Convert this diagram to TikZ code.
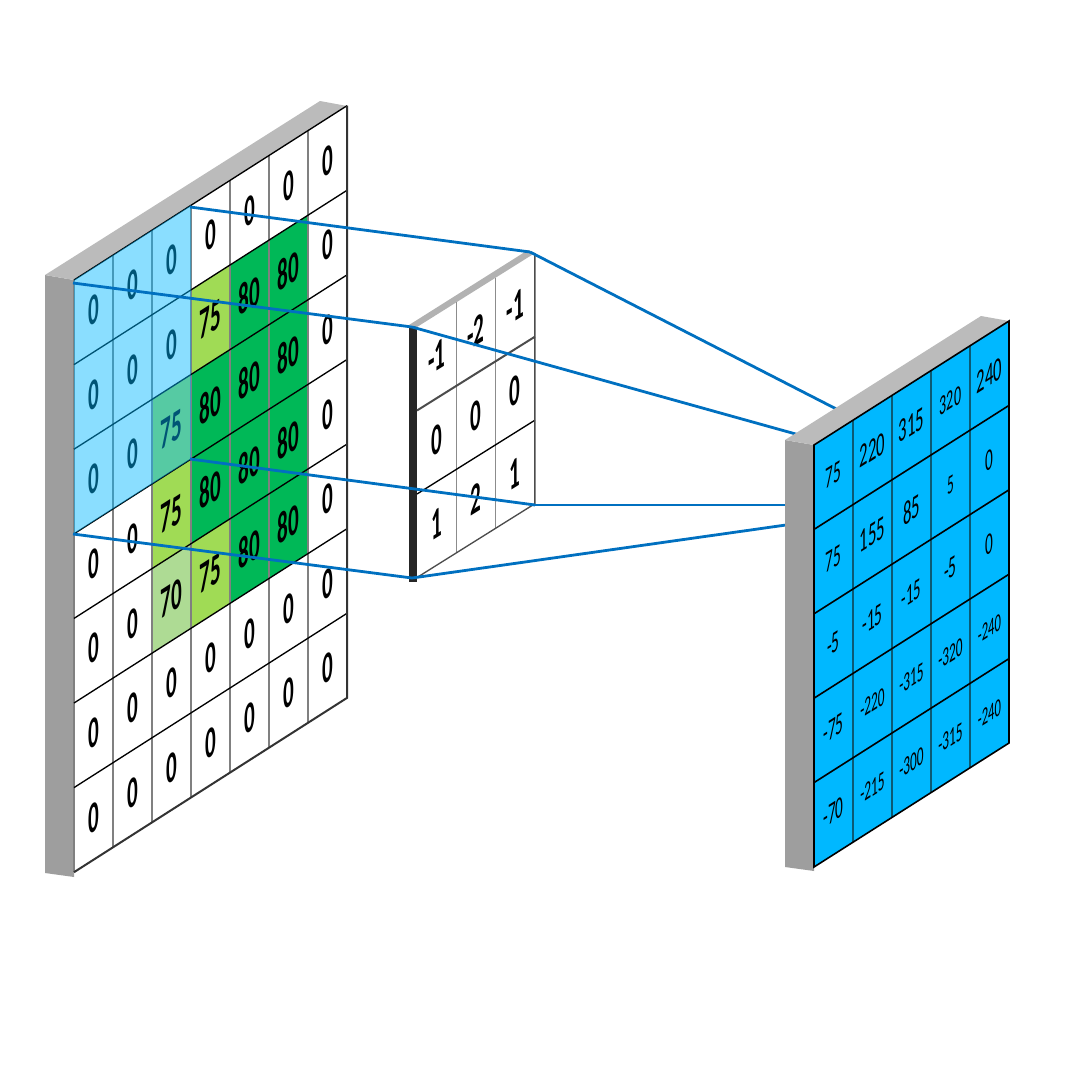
\documentclass[tikz,border=0pt]{standalone}
\usepackage{fontspec}
\setmainfont{Carlito}
\definecolor{wallside}{HTML}{9E9E9E}
\definecolor{walltop}{HTML}{BBBBBB}
\definecolor{cellsoft}{HTML}{AEDB94}
\definecolor{celllight}{HTML}{A0DB55}
\definecolor{celldark}{HTML}{00B857}
\definecolor{cellblue}{HTML}{00B8FF}
\definecolor{linkblue}{HTML}{0070C0}
\definecolor{outerline}{HTML}{0B5A75}
\tikzset{
  ingrid/.style={shift={(74,280)},x={(39,-24.9)},y={(0,84.6)}},
  kergrid/.style={shift={(417,327)},x={(39.3,-24.6)},y={(0,83.5)}},
  outgrid/.style={shift={(814,445)},x={(39,-24.8)},y={(0,84.4)}},
  innum/.style={transform shape,inner sep=0pt,font=\fontsize{33}{33}\selectfont\bfseries},
  link/.style={linkblue,line width=2.1pt},
}
\begin{document}
\begin{tikzpicture}[x=0.75pt,y=-0.75pt]
  \useasboundingbox (0,0) rectangle (1087,1088);
  % Ends of the links
  \coordinate (winA) at (190,207);
  \coordinate (winB) at (73,283);
  \coordinate (winC) at (190,459);
  \coordinate (winD) at (73,534);
  \coordinate (kerA) at (530,252);
  \coordinate (kerB) at (412,327);
  \coordinate (kerC) at (535,505);
  \coordinate (kerD) at (412,578);
  \coordinate (outA) at (850,416);
  \coordinate (outB) at (810,438);
  \coordinate (outC) at (800,505);
  \coordinate (outD) at (800,523);
  % Input wall
  \fill[wallside] (45,275) -- (74,280) -- (74,877) -- (45,873) -- cycle;
  \fill[walltop] (45,275) -- (74,280) -- (347,106) -- (320,101) -- cycle;
  % Input cells
  \begin{scope}[ingrid]
    \foreach \c/\r in {4/1,5/1,3/2,4/2,5/2,3/3,4/3,5/3,4/4,5/4}
      \fill[celldark] (\c,\r) -- (\c+1,\r) -- (\c+1,\r+1) -- (\c,\r+1) -- cycle;
    \foreach \c/\r in {3/1,2/2,2/3,3/4}
      \fill[celllight] (\c,\r) -- (\c+1,\r) -- (\c+1,\r+1) -- (\c,\r+1) -- cycle;
    \fill[cellsoft] (2,4) -- (3,4) -- (3,5) -- (2,5) -- cycle;
  \end{scope}
  % Input numbers
  \begin{scope}[cm={.48,.306,0,1,(74,280)}]
    \foreach \row [count=\r from 0] in {
      {0,0,0,0,0,0,0},
      {0,0,0,75,80,80,0},
      {0,0,75,80,80,80,0},
      {0,0,75,80,80,80,0},
      {0,0,70,75,80,80,0},
      {0,0,0,0,0,0,0},
      {0,0,0,0,0,0,0}}
      \foreach \v [count=\c from 0] in \row
        \node[innum] (in-\r-\c) at ({(\c+.5)*39/.48},{(\r+.5)*84.6}) {\v};
  \end{scope}
  % Input lines
  \begin{scope}[ingrid]
    \foreach \c in {0,1,2,3,4,5,6}
      \draw[gray,line width=1pt] (\c,0) -- (\c,7);
    \foreach \r in {0,1,2,3,4,5,6}
      \draw[black,line width=1pt] (0,\r) -- (7,\r);
    \draw[black!80,line width=1.5pt] (0,7) -- (7,7) -- (7,0);
    \fill[cellblue,fill opacity=.46] (0,0) -- (3,0) -- (3,3) -- (0,3) -- cycle;
  \end{scope}
  % Kernel
  \fill[black!85] (409,326) -- (417,326) -- (417,582) -- (409,582) -- cycle;
  \fill[black!30] (409,325) -- (417,327) -- (535,253) -- (528,250) -- cycle;
  \begin{scope}[cm={.48,.3,0,1,(417,327)}]
    \foreach \row [count=\r from 0] in {{-1,-2,-1},{0,0,0},{1,2,1}}
      \foreach \v [count=\c from 0] in \row
        \node[innum] (ker-\r-\c) at ({(\c+.5)*39.3/.48},{(\r+.5)*83.5}) {\v};
  \end{scope}
  \begin{scope}[kergrid]
    \foreach \c in {1,2}
      \draw[black!45,line width=1.2pt] (\c,0) -- (\c,3);
    \draw[black!70,line width=1.5pt] (0,1) -- (3,1);
    \draw[black,line width=1pt] (0,2) -- (3,2);
    \draw[black!70,line width=1pt] (0,3) -- (3,3) -- (3,0);
  \end{scope}
  % Links
  \draw[link] (winA) -- (kerA);
  \draw[link] (winB) -- (kerB);
  \draw[link] (winC) -- (kerC);
  \draw[link] (winD) -- (kerD);
  \draw[link] (kerA) -- (outA);
  \draw[link] (kerB) -- (outB);
  \draw[link] (kerC) -- (outC);
  \draw[link] (kerD) -- (outD);
  % Output wall
  \fill[wallside] (785,440) -- (814,445) -- (814,871) -- (785,867) -- cycle;
  \fill[walltop] (785,440) -- (814,445) -- (1009,321) -- (981,316) -- cycle;
  \begin{scope}[outgrid]
    \fill[cellblue] (0,0) -- (5,0) -- (5,5) -- (0,5) -- cycle;
    \foreach \c in {1,2,3,4}
      \draw[outerline,line width=1.2pt] (\c,0) -- (\c,5);
    \foreach \r in {1,2,3,4}
      \draw[black,line width=1.2pt] (0,\r) -- (5,\r);
    \draw[black,line width=1.2pt] (0,0) -- (5,0) -- (5,5) -- (0,5) -- cycle;
  \end{scope}
  % Output numbers
  \begin{scope}[cm={.5,.318,0,1,(814,445)}]
    \foreach \row [count=\r from 0] in {
      {75/23,220/25,315/25,320/21,240/25},
      {75/23,155/25,85/25,5/20,0/23},
      {-5/23,-15/23,-15/22,-5/23,0/23},
      {-75/23,-220/20,-315/20,-320/20,-240/19},
      {-70/23,-215/20,-300/20,-315/20,-240/19}}
      \foreach \v/\s [count=\c from 0] in \row
        \node[transform shape,inner sep=0pt,font=\fontsize{\s}{\s}\selectfont] (out-\r-\c)
          at ({(\c+.5)*39/.5},{(\r+.5)*84.4}) {\v};
  \end{scope}
\end{tikzpicture}
\end{document}
